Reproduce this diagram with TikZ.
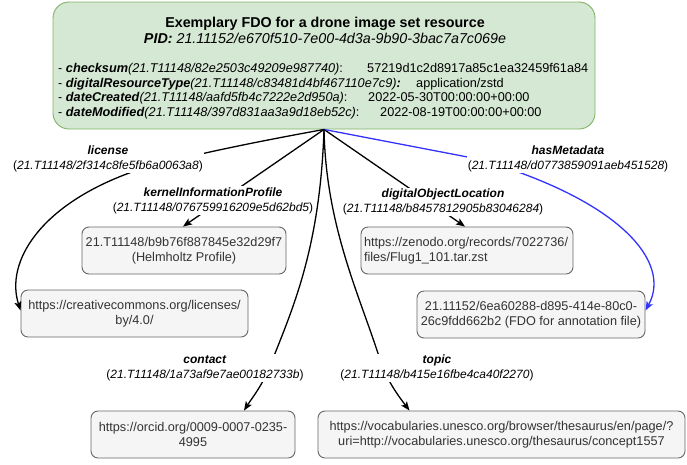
\documentclass[tikz,border=0pt]{standalone}
\usepackage{fontspec}
\setmainfont{Liberation Sans}
\usetikzlibrary{arrows.meta}
\definecolor{fdofill}{HTML}{D5E8D4}
\definecolor{fdodraw}{HTML}{82B366}
\definecolor{boxfill}{HTML}{F5F5F5}
\definecolor{boxdraw}{HTML}{666666}
\definecolor{boxtext}{HTML}{333333}
\definecolor{metablue}{HTML}{3333FF}
\begin{document}
\begin{tikzpicture}[x=1pt,y=-1pt,
  valbox/.style={draw=boxdraw, fill=boxfill, rounded corners=7pt, line width=0.9pt,
    text=boxtext, font=\fontsize{12.7}{15}\selectfont, align=center, inner sep=0pt,
    minimum height=47pt},
  rellabel/.style={fill=white, inner sep=1pt, align=center, font=\fontsize{12}{15}\selectfont},
  conn/.style={line width=1.3pt, -{Stealth[length=9pt,width=7pt,inset=2pt]}},
  prop/.style={anchor=base west, inner sep=0pt, font=\fontsize{12.7}{15}\selectfont},
  ttl/.style={anchor=base, inner sep=0pt, font=\fontsize{14.3}{17}\selectfont},
]
\useasboundingbox (0,0) rectangle (687,464);

% main FDO box
\node[draw=fdodraw, fill=fdofill, rounded corners=16pt, line width=0.9pt,
  minimum width=542pt, minimum height=127pt, inner sep=0pt] (fdo) at (324,65.5) {};
\node[ttl] (title) at (325,27) {\textbf{Exemplary FDO for a drone image set resource}};
\node[ttl] (pid) at (325,43.5) {\textbf{\textit{PID:}} \textit{21.11152/e670f510-7e00-4d3a-9b90-3bac7a7c069e}};

\node[prop] (k1) at (58,72.5) {- \textbf{\textit{checksum}}\textit{(21.T11148/82e2503c49209e987740)}:};
\node[prop] (v1) at (367,72.5) {57219d1c2d8917a85c1ea32459f61a84};
\node[prop] (k2) at (58,87) {- \textbf{\textit{digitalResourceType}}\textit{(21.T11148/c83481d4bf467110e7c9)}\textbf{\textit{:}}};
\node[prop] (v2) at (416,87) {application/zstd};
\node[prop] (k3) at (58,101.5) {- \textbf{\textit{dateCreated}}\textit{(21.T11148/aafd5fb4c7222e2d950a)}:};
\node[prop] (v3) at (368,101.5) {2022-05-30T00:00:00+00:00};
\node[prop] (k4) at (58,116) {- \textbf{\textit{dateModified}}\textit{(21.T11148/397d831aa3a9d18eb52c)}:};
\node[prop] (v4) at (380,116) {2022-08-19T00:00:00+00:00};

% value boxes
\node[valbox, minimum width=204pt] (hb) at (184,250.5) {21.T11148/b9b76f887845e32d29f7\\(Helmholtz Profile)};
\node[valbox, minimum width=227pt] (cc) at (134.5,313.5) {https://creativecommons.org/licenses/\\by/4.0/};
\node[valbox, minimum width=212pt, text width=206pt, align=left] (zen) at (467,250.5) {https://zenodo.org/records/7022736/\\files/Flug1\_101.tar.zst};
\node[valbox, minimum width=228pt] (ann) at (531,314.5) {21.11152/6ea60288-d895-414e-80c0-\\26c9fdd662b2 (FDO for annotation file)};
\node[valbox, minimum width=204pt] (orc) at (193,434.5) {https://orcid.org/0009-0007-0235-\\4995};
\node[valbox, minimum width=367pt] (une) at (501.5,434.5) {https://vocabularies.unesco.org/browser/thesaurus/en/page/?\\uri=http://vocabularies.unesco.org/thesaurus/concept1557};

% connectors
\coordinate (H) at (fdo.south);
\draw[conn] (H) .. controls (255,142) and (175,158) .. (132,172)
  .. controls (40,205) and (5,262) .. ([yshift=3pt]cc.west);
\draw[conn] (H) -- ([xshift=-1pt]hb.north);
\draw[conn] (H) -- ([xshift=-2pt]zen.north);
\draw[conn, metablue] (H) -- (478,159) .. controls (620,200) and (672,262) .. ([yshift=4pt]ann.east);
\draw[conn] (H) .. controls (320,250) and (292,310) .. (270,366)
  .. controls (262,386) and (252,398) .. ([xshift=51pt]orc.north);
\draw[conn] (H) .. controls (326,230) and (362,300) .. (382,366)
  .. controls (390,385) and (400,398) .. ([xshift=-92pt]une.north);

% connector labels
\node[rellabel] (lLic) at (108,158.5) {\textbf{\textit{license}}\\(\textit{21.T11148/2f314c8fe5fb6a0063a8})};
\node[rellabel] (lKip) at (213,200.5) {\textbf{\textit{kernelInformationProfile}}\\(\textit{21.T11148/076759916209e5d62bd5})};
\node[rellabel] (lDol) at (443,202) {\textbf{\textit{digitalObjectLocation}}\\(\textit{21.T11148/b8457812905b83046284})};
\node[rellabel] (lHas) at (568,158.5) {\textbf{\textit{hasMetadata}}\\(\textit{21.T11148/d0773859091aeb451528})};
\node[rellabel] (lCon) at (205,368) {\textbf{\textit{contact}}\\(\textit{21.T11148/1a73af9e7ae00182733b})};
\node[rellabel] (lTop) at (437,368) {\textbf{\textit{topic}}\\(\textit{21.T11148/b415e16fbe4ca40f2270})};
\end{tikzpicture}
\end{document}
